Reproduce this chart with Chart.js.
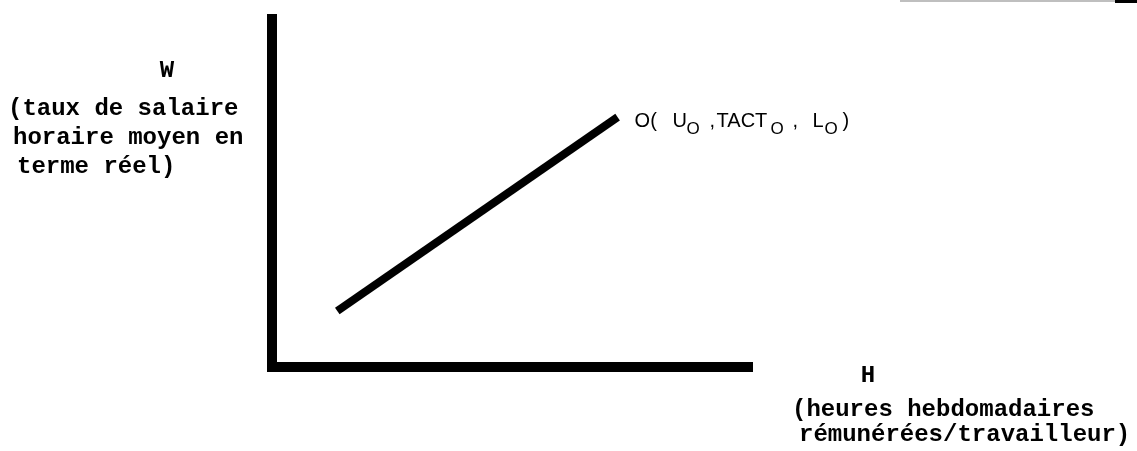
<!DOCTYPE html>
<html>
<head>
<meta charset="utf-8">
<script src="https://cdn.jsdelivr.net/npm/chart.js@4.4.0/dist/chart.umd.min.js"></script>
<style>
  body { margin: 0; background: #fff; }
  #wrap { width: 1137px; height: 451px; }
</style>
</head>
<body>
<div id="wrap"><canvas id="chart" width="1137" height="451"></canvas></div>
<script>
// curve O : two end points (H, W) in arbitrary axis units
const hours = [13.6, 72.0];
const wage = [16.1, 71.8];

const yTitle = ["W", "(taux de salaire", "horaire moyen en", "terme réel)"];
const xTitle = ["H", "(heures hebdomadaires", "rémunérées/travailleur)"];

// point label O(U0,TACT0,L0) : [text, dx, subscript]
const pointLabel = [
  ["O(", 0, false],
  ["U", 38, false],
  ["O", 52, true],
  [",", 75, false],
  ["TACT", 82, false],
  ["O", 136, true],
  [",", 158, false],
  ["L", 178, false],
  ["O", 190, true],
  [")", 208, false],
];

const points = hours.map((h, i) => ({ x: h, y: wage[i] }));

const textPlugin = {
  id: "texts",
  afterDraw(chart) {
    const ctx = chart.ctx;
    ctx.save();
    ctx.fillStyle = "#000";
    ctx.textBaseline = "middle";
    ctx.font = 'bold 24px "Liberation Mono", "DejaVu Sans Mono", monospace';

    // y axis title
    ctx.textAlign = "center";
    ctx.fillText(yTitle[0], 167, 71);
    ctx.textAlign = "left";
    const yx = [8, 13, 17];
    const yy = [109, 138, 167];
    for (let i = 1; i < yTitle.length; i++) {
      ctx.fillText(yTitle[i], yx[i - 1], yy[i - 1]);
    }

    // x axis title
    ctx.textAlign = "center";
    ctx.fillText(xTitle[0], 868, 376);
    ctx.textAlign = "left";
    ctx.fillText(xTitle[1], 792, 410);
    ctx.fillText(xTitle[2], 799, 435);

    // label at the top end of the line
    const meta = chart.getDatasetMeta(0);
    const end = meta.data[meta.data.length - 1];
    const x0 = end.x + 17;
    const base = end.y + 10;
    ctx.textBaseline = "alphabetic";
    pointLabel.forEach(([t, dx, sub]) => {
      ctx.font = (sub ? "17px" : "20px") + ' "Liberation Sans", Arial, sans-serif';
      ctx.fillText(t, x0 + dx, sub ? base + 7 : base);
    });

    // scan edge at the top right
    ctx.fillStyle = "rgba(0,0,0,0.25)";
    ctx.fillRect(900, 0, 237, 2);
    ctx.fillStyle = "#000";
    ctx.fillRect(1115, 0, 22, 3);
    ctx.restore();
  },
};

new Chart(document.getElementById("chart"), {
  type: "scatter",
  data: {
    datasets: [
      {
        data: points,
        showLine: true,
        borderColor: "#000",
        borderWidth: 8,
        borderCapStyle: "butt",
        pointRadius: 0,
        fill: false,
      },
    ],
  },
  options: {
    responsive: false,
    animation: false,
    layout: { padding: { left: 264, right: 385, top: 19, bottom: 76 } },
    scales: {
      x: {
        type: "linear",
        min: 0,
        max: 100,
        grid: { display: false },
        ticks: { display: false },
        border: { display: true, width: 10, color: "#000" },
      },
      y: {
        type: "linear",
        min: 0,
        max: 100,
        grid: { display: false },
        ticks: { display: false },
        border: { display: true, width: 10, color: "#000" },
      },
    },
    plugins: {
      legend: { display: false },
      tooltip: { enabled: false },
    },
  },
  plugins: [textPlugin],
});
</script>
</body>
</html>
